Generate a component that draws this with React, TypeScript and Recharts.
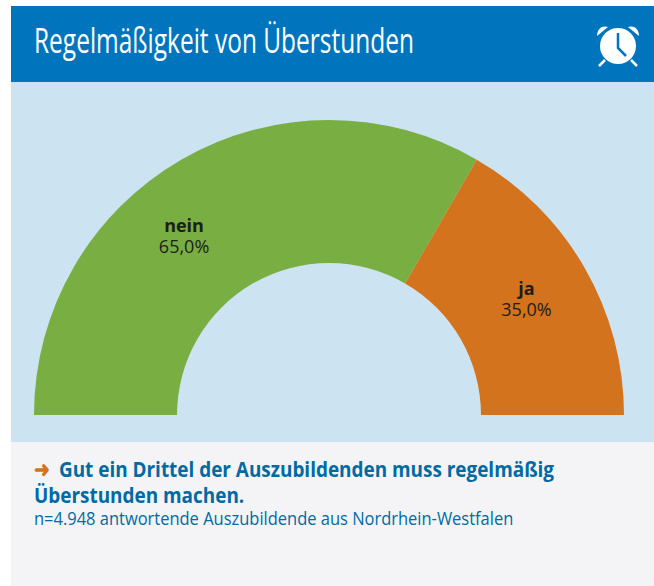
import { PieChart, Pie, Cell } from 'recharts'

const categories = ['nein', 'ja']
// the slices are drawn at about 2/3 and 1/3 in the original, the printed labels say 65/35
const drawnShares = [66.7, 33.3]
const valueLabels = ['65,0%', '35,0%']
const colors = ['#78ae42', '#d4731d']

const title = 'Regelmäßigkeit von Überstunden'
const noteHead = 'Gut ein Drittel der Auszubildenden muss regelmäßig'
const noteHead2 = 'Überstunden machen.'
const noteSub = 'n=4.948 antwortende Auszubildende aus Nordrhein-Westfalen'

const data = categories.map((name, i) => ({ name, value: drawnShares[i] }))

const font = '"Open Sans", sans-serif'
const RAD = Math.PI / 180

function SliceLabel(props: any) {
  const { cx, cy, midAngle, index } = props
  // "nein" sits further left than the centre of its slice
  const angle = index === 0 ? midAngle + 9.5 : midAngle
  const r = 228
  const x = cx + r * Math.cos(angle * RAD)
  const y = cy - r * Math.sin(angle * RAD)
  const dy = index === 0 ? -1 : 0
  return (
    <text x={x} textAnchor="middle" fontFamily={font} fontSize={18} fill="#1d1d1b">
      <tspan x={x} y={y - 6 + dy} fontWeight="bold">{categories[index]}</tspan>
      <tspan x={x} y={y + 15 + dy}>{valueLabels[index]}</tspan>
    </text>
  )
}

function ClockIcon() {
  return (
    <svg width={46} height={46} viewBox="0 0 46 46" style={{ position: 'absolute', left: 595, top: 22 }}>
      <circle cx={23} cy={24} r={18} fill="#fff" />
      <path d="M2 14 C2 6 8 3 13 5 Z" fill="#fff" />
      <path d="M44 14 C44 6 38 3 33 5 Z" fill="#fff" />
      <path d="M10 38 L4 44 M36 38 L42 44" stroke="#fff" strokeWidth={2.5} />
      <path d="M23 11 L23 26 L31 34" stroke="#0075bd" strokeWidth={2.5} fill="none" />
    </svg>
  )
}

// Frutiger-like condensed face is not installed, so Open Sans gets squeezed
function squeeze(sx: number): React.CSSProperties {
  return { display: 'block', width: 'max-content', transform: `scaleX(${sx})`, transformOrigin: 'left center' }
}

export default function App() {
  return (
    <div style={{ position: 'absolute', left: 0, top: 0, width: 654, height: 586, background: '#fff', overflow: 'hidden', fontFamily: font }}>
      <div style={{ position: 'absolute', left: 11, top: 6, width: 643, height: 76, background: '#0075bd' }} />
      <div style={{ position: 'absolute', left: 34, top: 20, color: '#fff', fontSize: 34, lineHeight: '40px', whiteSpace: 'nowrap', ...squeeze(0.72) }}>
        {title}
      </div>
      <ClockIcon />
      <div style={{ position: 'absolute', left: 11, top: 82, width: 643, height: 360, background: '#cce3f1' }}>
        <PieChart width={643} height={360} margin={{ top: 0, right: 0, bottom: 0, left: 0 }}>
          <Pie
            data={data}
            dataKey="value"
            cx={318}
            cy={333}
            startAngle={180}
            endAngle={0}
            innerRadius={152}
            outerRadius={295}
            stroke="none"
            label={SliceLabel}
            labelLine={false}
            isAnimationActive={false}
          >
            {data.map((d, i) => (
              <Cell key={d.name} fill={colors[i]} />
            ))}
          </Pie>
        </PieChart>
      </div>
      <div style={{ position: 'absolute', left: 11, top: 442, width: 643, height: 144, background: '#f4f4f7' }} />
      <div style={{ position: 'absolute', left: 34, top: 455, color: '#006aa3', whiteSpace: 'nowrap' }}>
        <div style={{ fontSize: 22, lineHeight: '26px', fontWeight: 'bold', ...squeeze(0.86) }}>
          <span style={{ color: '#d4731d', marginRight: 11 }}>➜</span>{noteHead}
        </div>
        <div style={{ fontSize: 22, lineHeight: '26px', fontWeight: 'bold', ...squeeze(0.86) }}>{noteHead2}</div>
        <div style={{ fontSize: 18, lineHeight: '23px', ...squeeze(0.915) }}>{noteSub}</div>
      </div>
    </div>
  )
}
